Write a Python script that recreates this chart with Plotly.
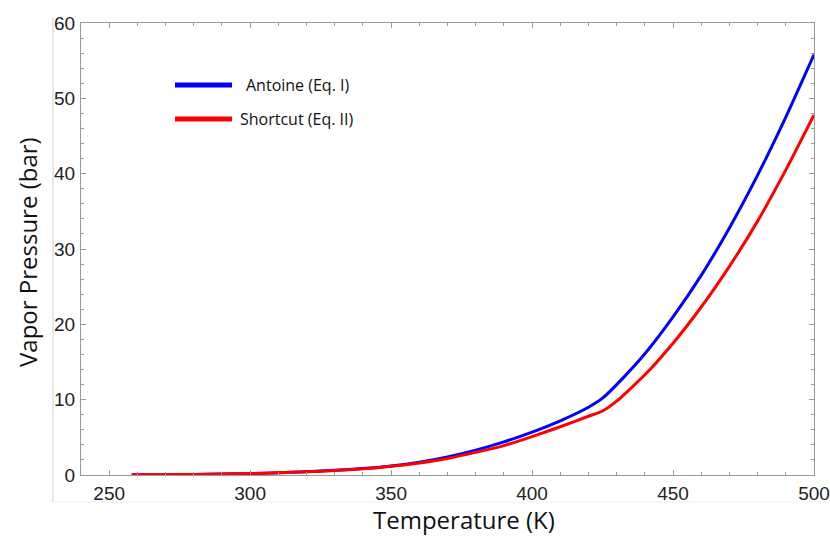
import plotly.graph_objects as go

# ---- data ----
temperature_K = [258, 270, 280, 290, 300, 310, 320, 330, 340, 350, 360, 370, 380,
                 390, 400, 410, 420, 425, 430, 440, 450, 460, 470, 480, 490, 500]
antoine_bar = [0.02, 0.04, 0.07, 0.12, 0.19, 0.30, 0.44, 0.62, 0.85, 1.20, 1.70, 2.40, 3.30,
               4.40, 5.70, 7.20, 9.00, 10.2, 12.0, 16.1, 21.0, 26.5, 32.8, 39.8, 47.5, 55.8]
shortcut_bar = [0.02, 0.04, 0.07, 0.12, 0.19, 0.30, 0.43, 0.60, 0.82, 1.15, 1.60, 2.20, 3.00,
                3.90, 5.10, 6.40, 7.80, 8.50, 9.80, 13.3, 17.5, 22.3, 27.7, 33.7, 40.5, 47.8]
series_names = ["Antoine (Eq. I)", "Shortcut (Eq. II)"]
x_title = "Temperature (K)"
y_title = "Vapor Pressure (bar)"
x_ticks = [250, 300, 350, 400, 450, 500]
y_ticks = [0, 10, 20, 30, 40, 50, 60]

W, H = 830, 537
L, R, T, B = 81, 814, 23, 475   # plot area in page pixels


def px(x):
    return (x - L) / (R - L)


def py(y):
    return (B - y) / (B - T)


fig = go.Figure()
fig.add_trace(go.Scatter(x=temperature_K, y=antoine_bar, mode="lines", name=series_names[0],
                         line=dict(color="#0000FF", width=3, shape="spline", smoothing=0.5)))
fig.add_trace(go.Scatter(x=temperature_K, y=shortcut_bar, mode="lines", name=series_names[1],
                         line=dict(color="#FF0000", width=3, shape="spline", smoothing=0.5)))

axis_common = dict(
    showgrid=False, zeroline=False, showline=True, linecolor="#9a9a9a", linewidth=1,
    mirror="allticks", ticks="inside", ticklen=5, tickcolor="#9a9a9a", tickwidth=1,
    automargin=False,
    tickfont=dict(family="Liberation Sans, Arial, sans-serif", size=19, color="#222222"),
)

fig.update_xaxes(
    range=[240, 500], tickvals=x_ticks, ticklabelstandoff=1,
    minor=dict(dtick=10, tick0=240, ticks="inside", ticklen=3, tickcolor="#9a9a9a"),
    **axis_common,
)
fig.update_yaxes(
    range=[0, 60], tickvals=y_ticks, ticklabelstandoff=1,
    minor=dict(dtick=2, ticks="inside", ticklen=3, tickcolor="#9a9a9a"),
    **axis_common,
)

title_font = dict(family="Open Sans, Lato, sans-serif", size=24, color="#111111")
annotations = [
    dict(xref="paper", yref="paper", x=px(464), y=py(519), xanchor="center", yanchor="middle",
         showarrow=False, text=x_title, font=title_font),
    dict(xref="paper", yref="paper", x=px(28), y=py(252), xanchor="center", yanchor="middle",
         showarrow=False, text=y_title, textangle=-90, font=title_font),
]

# legend drawn in the reference style (long line samples)
legend_rows = [(85, "#0000FF", series_names[0], 244), (119, "#FF0000", series_names[1], 238)]
shapes = []
for ypix, col, name, xtext in legend_rows:
    shapes.append(dict(type="line", xref="paper", yref="paper",
                       x0=px(175), x1=px(232), y0=py(ypix), y1=py(ypix),
                       line=dict(color=col, width=5)))
    annotations.append(dict(xref="paper", yref="paper", x=px(xtext), y=py(ypix),
                            xanchor="left", yanchor="middle", showarrow=False, text=name,
                            font=dict(family="Open Sans, Lato, sans-serif", size=16,
                                      color="#111111")))

# faint frame lines of the original picture
shapes.append(dict(type="line", xref="paper", yref="paper", x0=px(53), x1=px(53),
                   y0=py(18), y1=py(502), line=dict(color="#d0d0d0", width=1)))
shapes.append(dict(type="line", xref="paper", yref="paper", x0=px(53), x1=px(829),
                   y0=py(502), y1=py(502), line=dict(color="#f0f0f0", width=1)))

fig.update_layout(
    width=W, height=H,
    margin=dict(l=L, r=W - R, t=T, b=H - B),
    paper_bgcolor="white", plot_bgcolor="white",
    showlegend=False,
    shapes=shapes, annotations=annotations,
)

fig.write_html(
    "out.html",
    config={"displayModeBar": False},
    post_script="document.body.style.margin='0';document.body.style.overflow='hidden';",
)
